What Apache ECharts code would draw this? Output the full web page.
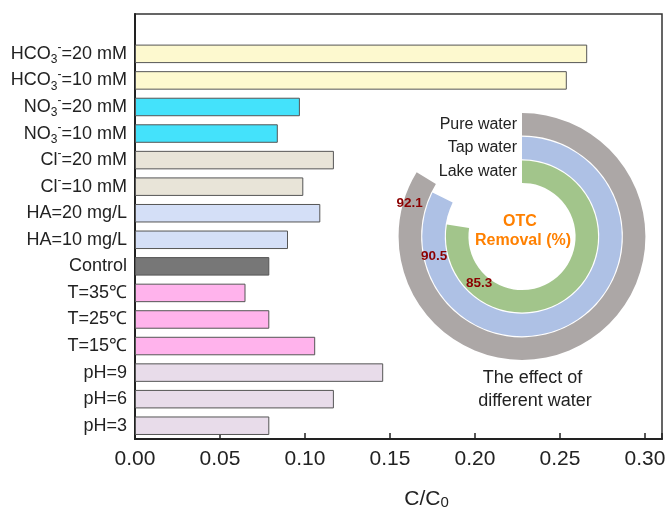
<!DOCTYPE html>
<html>
<head>
<meta charset="utf-8">
<script src="https://cdn.jsdelivr.net/npm/echarts@6/dist/echarts.min.js"></script>
<style>html,body{margin:0;padding:0;background:#fff}#c{width:667px;height:513px}</style>
</head>
<body>
<div id="c"></div>
<script>
// Bar chart data (top to bottom)
const categories = ['HCO3-=20 mM','HCO3-=10 mM','NO3-=20 mM','NO3-=10 mM','Cl-=20 mM','Cl-=10 mM',
  'HA=20 mg/L','HA=10 mg/L','Control','T=35℃','T=25℃','T=15℃','pH=9','pH=6','pH=3'];
const values = [0.266, 0.254, 0.097, 0.084, 0.117, 0.099, 0.109, 0.090, 0.079, 0.065, 0.079, 0.106, 0.146, 0.117, 0.079];
const xTicks = [0, 0.05, 0.10, 0.15, 0.20, 0.25, 0.30];

// Inset polar chart data (inner to outer)
const waterTypes = ['Lake water', 'Tap water', 'Pure water'];
const removal = [85.3, 90.5, 92.1];

// styles
const barColors = ['#fdf9cf','#fdf9cf','#44e2fb','#44e2fb','#e8e4d8','#e8e4d8','#d4dff7','#d4dff7',
  '#777777','#ffb3ec','#ffb3ec','#ffb3ec','#e8dcea','#e8dcea','#e8dcea'];
const ringColors = ['#a2c58b', '#aec1e5', '#aca7a6'];
const ringLabelOffsets = [[35, 52], [7, 54], [-1, 21]];

const FONT = 'Liberation Sans, Arial, sans-serif';
const chart = echarts.init(document.getElementById('c'), null, {renderer: 'canvas'});

function fmtCat(v) {
  if (v === '') return '';
  let m = v.match(/^(HCO|NO)3-(.*)$/);
  if (m) return m[1] + '{sub|3}{sup|-}' + m[2];
  m = v.match(/^Cl-(.*)$/);
  if (m) return 'Cl{sup|-}' + m[1];
  return v;
}

const option = {
  backgroundColor: '#fff',
  animation: false,
  textStyle: {fontFamily: FONT},
  grid: {left: 135, right: 5, top: 14, bottom: 74, show: true, borderColor: '#333', borderWidth: 1.5,
    containLabel: false, outerBoundsMode: 'none'},
  xAxis: {
    type: 'value', min: 0, max: 0.31, interval: 0.05,
    axisLine: {show: true, lineStyle: {color: '#222', width: 2}},
    axisTick: {show: true, inside: true, length: 6, lineStyle: {color: '#222', width: 1.5}},
    splitLine: {show: false},
    axisLabel: {
      fontSize: 21, color: '#222', margin: 10,
      formatter: v => xTicks.some(t => Math.abs(t - v) < 1e-9) ? v.toFixed(2) : ''
    },
    name: 'C/C{sub|0}', nameLocation: 'middle', nameGap: 50,
    nameTextStyle: {fontSize: 21, color: '#222', padding: [0, 0, 0, 56],
      rich: {sub: {fontSize: 15, verticalAlign: 'bottom', lineHeight: 12}}}
  },
  yAxis: {
    type: 'category', inverse: true,
    data: [''].concat(categories),
    axisLine: {show: true, lineStyle: {color: '#222', width: 2}},
    axisTick: {show: false},
    axisLabel: {
      fontSize: 18, color: '#222', margin: 8, lineHeight: 24,
      formatter: fmtCat,
      rich: {
        sub: {fontSize: 12, verticalAlign: 'bottom', lineHeight: 10, color: '#222'},
        sup: {fontSize: 12, verticalAlign: 'top', lineHeight: 12, color: '#222'}
      }
    }
  },
  polar: {center: [522, 236.5], radius: [53, 124]},
  angleAxis: {type: 'value', min: 0, max: 110, startAngle: 90, show: false},
  radiusAxis: {
    type: 'category', data: waterTypes,
    axisLine: {show: false}, axisTick: {show: false},
    axisLabel: {fontSize: 16, color: '#222', margin: 5, interval: 0, hideOverlap: false}
  },
  series: [
    {
      type: 'bar',
      data: [null].concat(values.map((v, i) => ({value: v, itemStyle: {color: barColors[i]}}))),
      barWidth: 18.5,
      itemStyle: {borderColor: '#555', borderWidth: 1}
    },
    {
      type: 'bar', coordinateSystem: 'polar',
      data: removal.map((v, i) => ({value: v, itemStyle: {color: ringColors[i]}, label: {offset: ringLabelOffsets[i]}})),
      barWidth: 22.5,
      label: {show: true, position: 'insideEnd', rotate: 0, color: '#8b0000', fontWeight: 'bold', fontSize: 13.5}
    }
  ],
  graphic: [
    {type: 'text', x: 520, y: 221.5, style: {text: 'OTC', fill: '#ff8000', font: 'bold 16px ' + FONT, textAlign: 'center', textVerticalAlign: 'middle'}},
    {type: 'text', x: 523, y: 241, style: {text: 'Removal (%)', fill: '#ff8000', font: 'bold 16px ' + FONT, textAlign: 'center', textVerticalAlign: 'middle'}},
    {type: 'text', x: 532.5, y: 378.5, style: {text: 'The effect of', fill: '#222', font: '18px ' + FONT, textAlign: 'center', textVerticalAlign: 'middle'}},
    {type: 'text', x: 535, y: 401.5, style: {text: 'different water', fill: '#222', font: '18px ' + FONT, textAlign: 'center', textVerticalAlign: 'middle'}}
  ]
};
chart.setOption(option);
</script>
</body>
</html>
